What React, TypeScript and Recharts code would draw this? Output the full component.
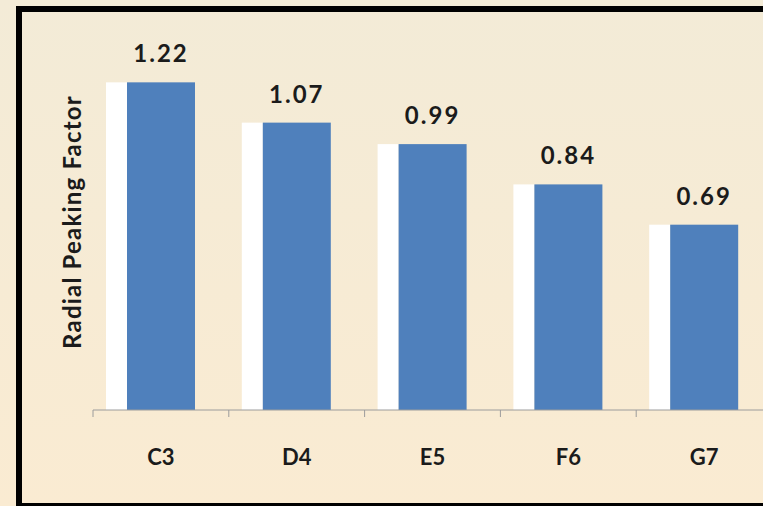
import React from "react";
import { BarChart, Bar, XAxis, YAxis, LabelList } from "recharts";

const categories = ["C3", "D4", "E5", "F6", "G7"];
const peakingFactor = [1.22, 1.07, 0.99, 0.84, 0.69];
const edgeTicks = [0, 1, 2, 3, 4, 5];

const data = categories.map((c, i) => ({ pos: c, value: peakingFactor[i], idx: i + 0.5 }));

const font = "Lato, 'Open Sans', sans-serif";
const ink = "#1b1b1b";

// blue bar with the white "shadow" strip on its left
const ShadowBar = (props: any) => {
  const { x, y, width, height, fill } = props;
  if (!height || height <= 0) return null;
  return (
    <g>
      <rect x={x - 21} y={y} width={21} height={height} fill="#ffffff" />
      <rect x={x} y={y} width={width} height={height} fill={fill} />
    </g>
  );
};

const NoLabel = () => <g />;

export default function App() {
  return (
    <div
      style={{
        position: "fixed",
        left: 0,
        top: 0,
        width: 763,
        height: 506,
        overflow: "hidden",
        background: "linear-gradient(#f3ebd7, #faebd2)",
      }}
    >
      <div
        style={{
          position: "absolute",
          left: 16,
          top: 6,
          width: 800,
          height: 503,
          border: "6px solid #000",
          boxSizing: "border-box",
        }}
      />
      <div style={{ position: "absolute", left: 0, top: 0 }}>
        <BarChart
          width={800}
          height={506}
          data={data}
          margin={{ top: 34, right: 28, left: 0, bottom: 57 }}
        >
          {/* tick marks sit between the categories, so they get their own numeric axis */}
          <XAxis
            xAxisId="a"
            type="number"
            dataKey="idx"
            domain={[0, 5]}
            ticks={edgeTicks}
            interval={0}
            allowDataOverflow
            height={1}
            tick={NoLabel}
            tickLine={{ stroke: "#9c9c9c" }}
            tickSize={7}
            stroke="#9c9c9c"
          />
          <XAxis
            xAxisId="b"
            dataKey="pos"
            height={38}
            axisLine={false}
            tickLine={false}
            tickSize={0}
            tickMargin={38}
            tick={{ fill: ink, fontSize: 22, fontWeight: 700, fontFamily: font }}
          />
          <YAxis
            width={93}
            domain={[0, 1.4]}
            tick={false}
            axisLine={false}
            tickLine={false}
            label={{
              value: "Radial Peaking Factor",
              angle: -90,
              position: "center",
              dx: 26,
              fill: ink,
              fontSize: 24,
              fontWeight: 700,
              fontFamily: font,
              letterSpacing: 1.2,
            }}
          />
          <Bar xAxisId="b" dataKey="value" fill="#4f80bc" barSize={68} shape={<ShadowBar />} isAnimationActive={false}>
            <LabelList
              dataKey="value"
              position="top"
              offset={20}
              formatter={(v: any) => Number(v).toFixed(2)}
              fill={ink}
              fontSize={24}
              fontWeight={700}
              fontFamily={font}
              letterSpacing={2}
            />
          </Bar>
        </BarChart>
      </div>
    </div>
  );
}
